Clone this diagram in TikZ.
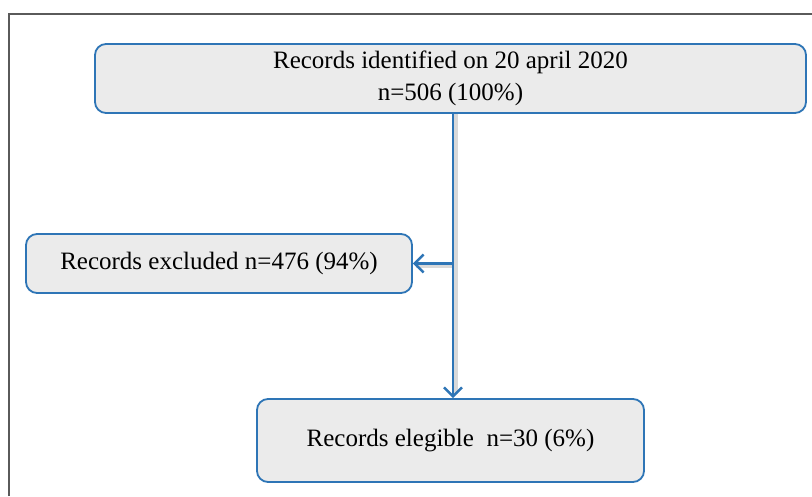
\documentclass[tikz,border=0pt]{standalone}
\usepackage{fontspec}
\setmainfont{Liberation Serif}
\usetikzlibrary{arrows.meta}
\definecolor{boxblue}{HTML}{2E75B6}
\definecolor{boxfill}{HTML}{EBEBEB}
\definecolor{framegray}{HTML}{5A5A5A}
\tikzset{
  recbox/.style={draw=boxblue, fill=boxfill, line width=1.8pt, rounded corners=11pt,
    inner sep=0pt, font=\fontsize{25}{32}\selectfont, align=center},
  flow/.style={draw=boxblue, line width=2.4pt,
    -{Straight Barb[length=9pt, width=18pt, line width=2.4pt]}},
  shade line/.style={black!15, line width=4pt},
}
\begin{document}
\begin{tikzpicture}[x=1pt, y=-1pt]
  \useasboundingbox (0,0) rectangle (812,496);
  % outer frame (top and left edges only)
  \draw[framegray, line width=1.8pt] (9,496) -- (9,14) -- (812,14);

  \node[recbox, minimum width=711pt, minimum height=69pt] (ident) at (450.5,78.5)
    {Records identified on 20 april 2020\\ n=506 (100\%)};
  \node[recbox, minimum width=386pt, minimum height=59pt] (excl) at (219,263.5)
    {Records excluded n=476 (94\%)};
  \node[recbox, minimum width=387pt, minimum height=83pt] (elig) at (450.5,440.5)
    {Records elegible\ \ n=30 (6\%)};

  \coordinate (top) at (453,113);
  \coordinate (split) at (453,263.5);
  % soft shadow of the connectors
  \draw[shade line] (455.5,114) -- (455.5,394);
  \draw[shade line] (455.5,266) -- (416,266);
  % connectors
  \draw[boxblue, line width=2.4pt] (top) -- (split);
  \draw[flow] (split) -- (excl.east);
  \draw[flow] (split) -- (split |- elig.north);
\end{tikzpicture}
\end{document}
